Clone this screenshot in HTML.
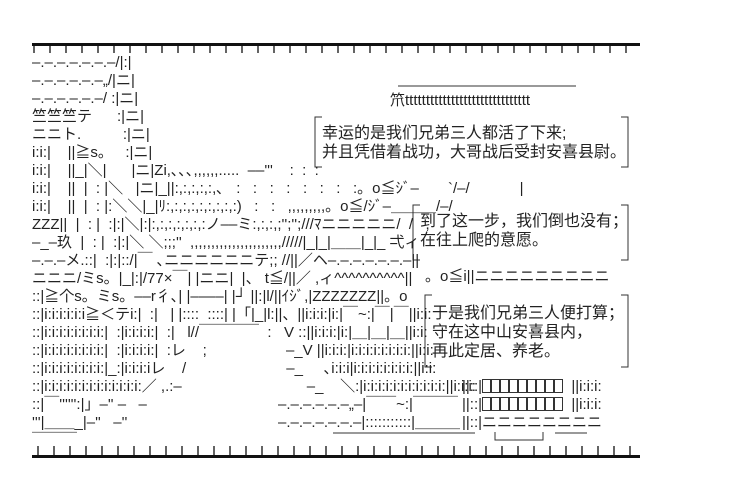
<!DOCTYPE html>
<html><head><meta charset="utf-8"><style>
body{margin:0;background:#fff;width:736px;height:496px;overflow:hidden;position:relative;font-family:"Liberation Sans","Noto Sans CJK SC",sans-serif;color:#222}
.a{position:absolute;white-space:pre;font-size:15px;line-height:18px;font-family:"Liberation Sans","Noto Sans CJK JP",sans-serif}
.bar{position:absolute;left:32px;width:608px;height:3px;background:#111}
.t{position:absolute;font-size:16px;line-height:19px;white-space:pre;font-family:"Liberation Sans","Noto Sans CJK SC",sans-serif;color:#222}
.b{display:inline-block;width:7px;height:12px;border:1px solid #333;margin-right:0;vertical-align:-2px}
</style></head><body>
<div class="bar" style="top:43px"></div>
<div class="bar" style="top:455px"></div>
<svg style="position:absolute;left:0;top:0" width="736" height="496">
<g stroke="#111" stroke-width="1.3">
<path d="M34 44v9M50 44v9M66 44v9M82 44v9M98 44v9M114 44v9M130 44v9M146 44v9M162 44v9M178 44v9M194 44v9M210 44v9M226 44v9M242 44v9M258 44v9M274 44v9M290 44v9M306 44v9M322 44v9M338 44v9M354 44v9M370 44v9M386 44v9M402 44v9M418 44v9M434 44v9M450 44v9M466 44v9M482 44v9M498 44v9M514 44v9M530 44v9M546 44v9M562 44v9M578 44v9M594 44v9M610 44v9M626 44v9"/>
<path d="M38 446v9M54 446v9M70 446v9M86 446v9M102 446v9M118 446v9M134 446v9M150 446v9M166 446v9M182 446v9M198 446v9M214 446v9M230 446v9M246 446v9M262 446v9M278 446v9M294 446v9M310 446v9M326 446v9M342 446v9M358 446v9M374 446v9M390 446v9M406 446v9M422 446v9M438 446v9M454 446v9M470 446v9M486 446v9M502 446v9M518 446v9M534 446v9M550 446v9M566 446v9M582 446v9M598 446v9M614 446v9M630 446v9"/>
</g>
<g fill="none" stroke="#333">
<path d="M315 126v-9h7M315 124v37M315 159v8h7M628 126v-9h-7M628 124v37M628 159v8h-7"/>
<path d="M413 214v-9h7M413 212v40M413 251v9h7M628 214v-9h-7M628 212v40M628 251v9h-7"/>
<path d="M425 304v-9h7M425 302v58M425 359v8h7M628 304v-9h-7M628 302v58M628 359v8h-7"/>
<path d="M398 86h178"/>
<path d="M495 432v8h48v-8"/>
<path d="M333 433h142M555 433h32"/>
</g>
</svg>
<div class="a" style="left:32px;top:54px">–.–.–.–.–.–.–/|:|
–.–.–.–.–.–„/|ニ|
–.–.–.–.–.–/ :|ニ|
竺竺竺テ      :|ニ|
ニニト.          :|ニ|
i:i:|    ||≧s。   :|ニ|
i:i:|    ||_|＼|      |ニ|Zi,､､､,,,,,,.....  ––'''    :  :  :
i:i:|    ||  |  : |＼   |ニ|_||:,:,:,:,:,､   :   :   :   :   :   :   :   :。o≦ｼﾞ–       `/–/            |
i:i:|    ||  |  : |:＼＼|_|ﾘ:,:,:,:,:,:,:,:,:)   :   :   ,,,,,,,,,。o≦/ｼﾞ–＿＿＿/–/
ZZZ||  |  : |  :|:|＼|:|:,:,:,:,:,:,:ノ––ミ:,:,:,;'';'';///ﾏニニニニニ/  /   ,
–_–玖  |  : |  :|:|＼ ＼;;;''  ,,,,,,,,,,,,,,,,,,,,,,/////|_|_|＿＿|_|_ 弌ィ
–.–.–メ.::|  :|:|::/|￣ ､ニニニニニニテ;; //||／ヘ–.–.–.–.–.–.–||
ニニニ/ミs。|_|:|/77×￣| |ニニ|  |、 t≦/||／ ,ィ^^^^^^^^^^||
::|≧个s。ミs。––r彳､| |––––| |┘ ||:|l/||ｲｼﾞ,|ZZZZZZZ||。o
::|i:i:i:i:i:i≧＜テi:|  :|   | |::::  ::::| |「|_|l:||、||i:i:i:|i:|￣~:|￣|￣||i:i:
::|i:i:i:i:i:i:i:i:|  :|i:i:i:i:|  :|   l//￣￣￣￣  :   V ::||i:i:i:|i:|＿|＿|＿||i:i:
::|i:i:i:i:i:i:i:i:|  :|i:i:i:i:|  :レ    ;                   –_V ||i:i:i:|i:i:i:i:i:i:i:i:||i:i:
::|i:i:i:i:i:i:i:i:|_:|i:i:i:iレ    /                        –_     ､i:i:i|i:i:i:i:i:i:i:i:||i:i:
::|i:i:i:i:i:i:i:i:i:i:i:i:i:／ ,.:–                              –_    ＼:|i:i:i:i:i:i:i:i:i:i:i:||i:i:i:
::|￣'''''':|」–'' –   –
'''|＿＿_|–''   –''
￣￣￣</div>
<div class="a" style="left:462px;top:378px">||::|<span class="b"></span><span class="b"></span><span class="b"></span><span class="b"></span><span class="b"></span><span class="b"></span><span class="b"></span><span class="b"></span><span class="b"></span>  ||i:i:i:</div>
<div class="a" style="left:278px;top:396px">–.–.–.–.–.–„–|￣￣~:|￣￣￣</div>
<div class="a" style="left:462px;top:396px">||::|<span class="b"></span><span class="b"></span><span class="b"></span><span class="b"></span><span class="b"></span><span class="b"></span><span class="b"></span><span class="b"></span><span class="b"></span>  ||i:i:i:</div>
<div class="a" style="left:278px;top:414px">–.–.–.–.–.–.–|:::::::::::|＿＿＿</div>
<div class="a" style="left:462px;top:414px">||::|ニニニニニニニニ</div>
<div class="a" style="left:390px;top:92px">笊tttttttttttttttttttttttttttttt</div>
<div class="a" style="left:425px;top:268px">。o≦i||ニニニニニニニニニ</div>
<div class="t" style="left:322px;top:124px">幸运的是我们兄弟三人都活了下来;
并且凭借着战功，大哥战后受封安喜县尉。</div>
<div class="t" style="left:420px;top:212px">到了这一步，我们倒也没有；
在往上爬的意愿。</div>
<div class="t" style="left:432px;top:304px">于是我们兄弟三人便打算；
守在这中山安喜县内，
再此定居、养老。</div>
</body></html>
